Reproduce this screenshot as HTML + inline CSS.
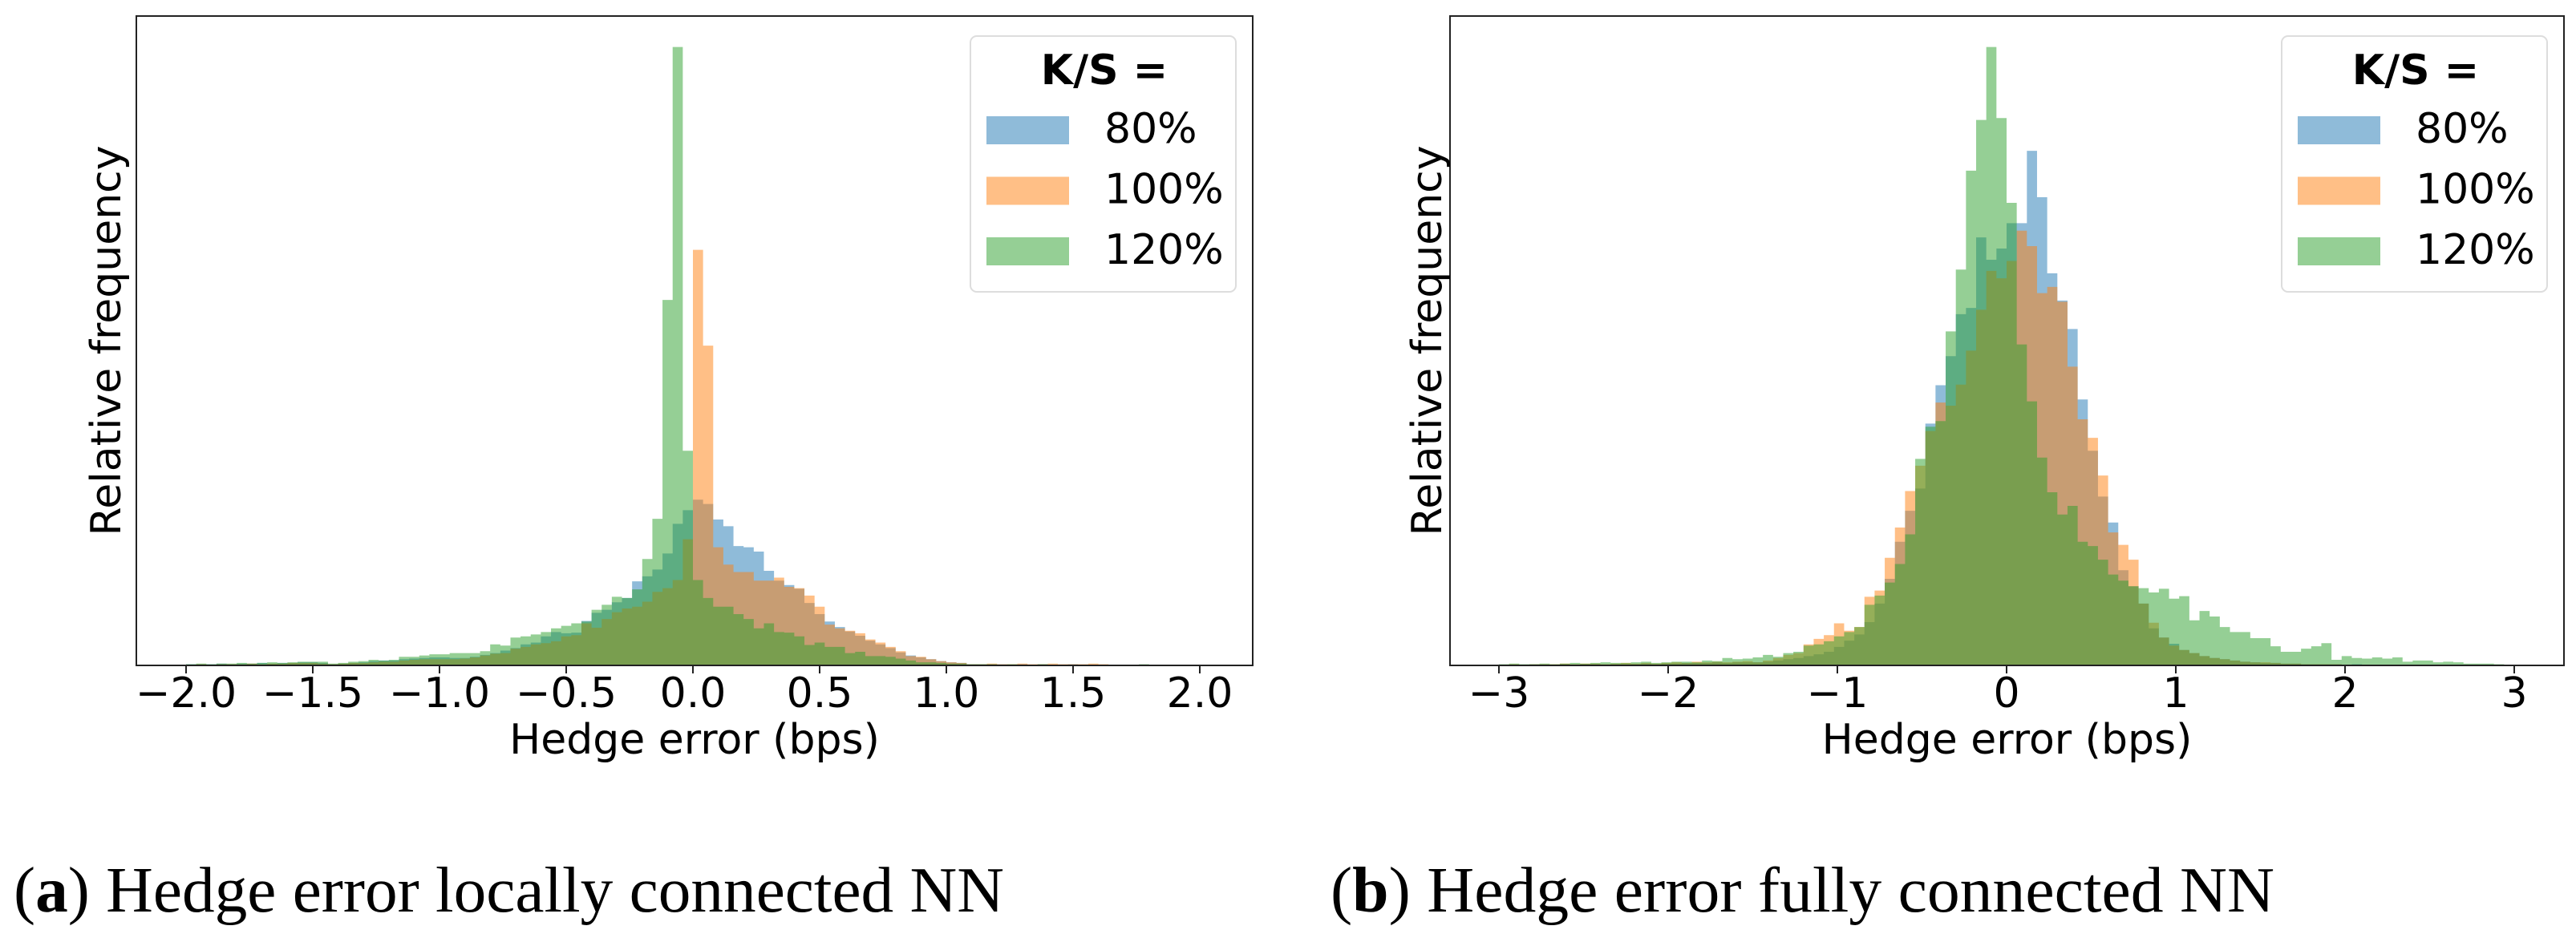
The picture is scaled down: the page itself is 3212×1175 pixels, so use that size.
<!DOCTYPE html>
<html><head><meta charset="utf-8">
<style>
html,body{margin:0;padding:0;background:#fff;}
svg{display:block;}
</style></head>
<body>
<svg id="fig" width="3212" height="1175" viewBox="0 0 3212 1175" xmlns="http://www.w3.org/2000/svg" font-family="'DejaVu Sans','Liberation Sans',sans-serif">
  <rect x="0" y="0" width="3212" height="1175" fill="#fff"/>
  <g id="panelA"></g>
  <g id="panelB"></g>
  <text x="17" y="1137" font-family="'Liberation Serif',serif" font-size="80" textLength="1235" lengthAdjust="spacingAndGlyphs">(<tspan font-weight="bold">a</tspan>) Hedge error locally connected NN</text>
  <text x="1659" y="1137" font-family="'Liberation Serif',serif" font-size="80" textLength="1177" lengthAdjust="spacingAndGlyphs">(<tspan font-weight="bold">b</tspan>) Hedge error fully connected NN</text>
</svg>
<script>
// ---------- Data: panel A (bins of 0.04 from -2.0) ----------
const seriesLabels = ["80%", "100%", "120%"];
const binStartA = -2.0;
const binWidthA = 0.04;
const blueA = [0.002,0.002,0.002,0.003,0.002,0.003,0.003,0.004,0.003,0.004,0.004,0.005,0.005,
0.004,0.002,0.003,0.004,0.005,0.007,0.008,0.008,0.010,0.011,0.012,0.013,0.013,0.012,0.012,0.014,0.017,0.020,0.024,0.028,0.034,0.037,0.047,0.054,0.052,0.053,0.072,0.085,0.090,0.102,0.109,0.136,0.144,0.155,0.181,0.229,0.251,
0.268,0.261,0.236,0.225,0.193,0.191,0.184,0.153,0.137,0.130,0.124,0.101,0.083,0.071,0.062,0.055,0.048,0.040,0.034,0.028,0.021,0.016,0.013,0.010,0.007,0.005,0.004,0.002,0.002,0.002,0.002,0.001,0.002,0.001,0.002,0.001,0.001,0.002,0.001,0.001,0.001,0.001,0.001,0.001,0.001,0.001,0.001,0.001,0.001,0.001];
const orangeA = [0.001,0.002,0.001,0.002,0.002,0.002,0.003,0.002,0.003,0.003,0.004,0.004,0.004,
0.003,0.002,0.003,0.004,0.004,0.005,0.006,0.006,0.008,0.009,0.010,0.010,0.010,0.010,0.011,0.013,0.016,0.019,0.020,0.027,0.030,0.034,0.036,0.039,0.047,0.049,0.068,0.061,0.075,0.086,0.092,0.095,0.103,0.119,0.125,0.138,0.204,
0.672,0.517,0.191,0.163,0.151,0.151,0.137,0.137,0.142,0.127,0.125,0.113,0.095,0.066,0.060,0.056,0.052,0.042,0.037,0.030,0.023,0.015,0.014,0.010,0.007,0.005,0.004,0.002,0.002,0.003,0.002,0.002,0.003,0.002,0.002,0.003,0.002,0.002,0.002,0.003,0.002,0.001,0.001,0.001,0.001,0.001,0.001,0.001,0.001,0.001];
const greenA = [0.002,0.003,0.002,0.003,0.003,0.004,0.003,0.004,0.005,0.004,0.005,0.006,0.006,
0.006,0.003,0.004,0.006,0.007,0.009,0.008,0.009,0.014,0.014,0.016,0.018,0.018,0.020,0.020,0.020,0.023,0.034,0.032,0.045,0.047,0.050,0.054,0.060,0.064,0.068,0.071,0.090,0.098,0.111,0.109,0.123,0.172,0.237,0.591,1.000,0.347,
0.138,0.109,0.095,0.095,0.083,0.075,0.060,0.068,0.054,0.053,0.047,0.033,0.037,0.030,0.030,0.020,0.022,0.015,0.015,0.014,0.011,0.008,0.005,0.005,0.004,0.003,0.003,0.002,0.002,0.002,0.001,0.002,0.001,0.001,0.002,0.001,0.001,0.001,0.001,0.001,0.001,0.001,0.001,0.001,0.002,0.001,0.001,0.001,0.001,0.001];
const ticksA = [-2.0,-1.5,-1.0,-0.5,0.0,0.5,1.0,1.5,2.0];
const tickLabelsA = ["\u22122.0","\u22121.5","\u22121.0","\u22120.5","0.0","0.5","1.0","1.5","2.0"];

// ---------- Data: panel B (bins of 0.06 from -3.0) ----------
const binStartB = -3.0;
const binWidthB = 0.06;
const blueB = [0.001,0.001,0.001,0.002,0.001,0.001,0.002,0.001,0.002,0.002,0.001,0.002,0.002,0.002,0.003,0.002,0.003,0.003,0.004,0.004,0.004,0.005,0.004,0.005,0.005,
0.005,0.006,0.008,0.010,0.012,0.015,0.018,0.022,0.030,0.040,0.050,0.070,0.100,0.140,0.200,0.250,0.286,0.391,0.453,0.500,0.568,0.578,0.692,0.656,0.674,
0.715,0.715,0.832,0.757,0.634,0.590,0.544,0.430,0.347,0.273,0.231,0.154,0.128,0.100,0.060,0.045,0.035,0.025,0.020,0.015,0.012,0.010,0.008,0.006,0.005,0.004,0.004,0.003,0.003,0.002,0.002,0.002,0.002,0.001,0.002,0.001,0.001,0.001,0.001,0.001,0.001,0.001,0.001,0.001,0.001,0.001,0.001,0.001,0.001,0.001];
const orangeB = [0.001,0.002,0.001,0.002,0.002,0.002,0.003,0.002,0.003,0.003,0.002,0.003,0.004,0.003,0.004,0.003,0.004,0.005,0.004,0.006,0.005,0.006,0.005,0.006,0.007,
0.005,0.008,0.012,0.017,0.020,0.034,0.043,0.049,0.068,0.056,0.062,0.111,0.121,0.174,0.223,0.282,0.323,0.379,0.425,0.420,0.454,0.509,0.575,0.638,0.626,0.654,
0.703,0.678,0.602,0.612,0.588,0.483,0.398,0.368,0.307,0.215,0.195,0.171,0.100,0.069,0.045,0.032,0.025,0.020,0.015,0.012,0.010,0.008,0.006,0.005,0.005,0.004,0.003,0.003,0.002,0.002,0.002,0.002,0.001,0.001,0.001,0.001,0.001,0.001,0.001,0.001,0.001,0.001,0.001,0.001,0.001,0.001,0.001,0.001];
const greenB = [0.002,0.003,0.002,0.002,0.003,0.002,0.003,0.004,0.003,0.004,0.005,0.004,0.004,0.005,0.006,0.004,0.005,0.006,0.006,0.005,
0.008,0.007,0.012,0.010,0.011,0.013,0.017,0.014,0.020,0.022,0.032,0.034,0.039,0.047,0.054,0.062,0.098,0.113,0.134,0.164,0.212,0.334,0.386,0.395,0.540,0.640,0.800,0.882,1.000,0.885,
0.748,0.519,0.427,0.336,0.280,0.244,0.258,0.200,0.193,0.171,0.147,0.137,0.128,0.125,0.118,0.124,0.108,0.112,0.073,0.088,0.079,0.062,0.054,0.054,0.044,0.044,0.031,0.022,0.022,0.027,0.031,0.036,0.009,0.015,0.012,0.011,0.013,0.011,0.013,0.006,0.008,0.008,0.005,0.006,0.005,0.003,0.003,0.003,0.002,0.001];
const ticksB = [-3,-2,-1,0,1,2,3];
const tickLabelsB = ["\u22123","\u22122","\u22121","0","1","2","3"];

const NS = "http://www.w3.org/2000/svg";
const COLORS = ["#1f77b4", "#ff7f0e", "#2ca02c"];

function mk(tag, attrs, parent) {
  const e = document.createElementNS(NS, tag);
  for (const k in attrs) e.setAttribute(k, attrs[k]);
  parent.appendChild(e);
  return e;
}

function drawPanel(g, cfg) {
  const L = cfg.left, R = cfg.right, T = 20, B = 830;
  const xScale = v => cfg.x0 + v * cfg.pxPerUnit;
  const maxV = Math.max(...cfg.series.flat());
  const yScale = v => B - v / (maxV * 1.05) * (B - T);

  const bars = mk("g", {}, g);
  
  
  cfg.series.forEach((arr, si) => {
    const sg = mk("g", {fill: COLORS[si], "fill-opacity": 0.5}, bars);
    
    
    let d = "M" + xScale(cfg.binStart).toFixed(2) + "," + B;
    arr.forEach((v, i) => {
      const x0 = xScale(cfg.binStart + i * cfg.binWidth);
      const x1 = xScale(cfg.binStart + (i + 1) * cfg.binWidth);
      const y = yScale(v);
      d += "L" + x0.toFixed(2) + "," + y.toFixed(2) + "L" + x1.toFixed(2) + "," + y.toFixed(2);
    });
    d += "L" + xScale(cfg.binStart + arr.length * cfg.binWidth).toFixed(2) + "," + B + "Z";
    const p = mk("path", {d: d}, sg);
    
    
  });

  const frame = mk("rect", {x: L, y: T, width: R - L, height: B - T, fill: "none", stroke: "#222", "stroke-width": 2}, g);
  
  

  const xa = mk("g", {}, g);
  
  
  cfg.ticks.forEach((t, i) => {
    const x = xScale(t);
    const tk = mk("line", {x1: x, y1: B, x2: x, y2: B + 10, stroke: "#222", "stroke-width": 2}, xa);
    
    
    const tl = mk("text", {x: x, y: 882, "font-size": 52, "text-anchor": "middle", fill: "#000"}, xa);
    tl.textContent = cfg.tickLabels[i];
    
    
  });
  const xl = mk("text", {x: (L + R) / 2, y: 940, "font-size": 52, "text-anchor": "middle", fill: "#000"}, g);
  xl.textContent = "Hedge error (bps)";
  
  

  const yl = mk("text", {x: 0, y: 0, "font-size": 52, "text-anchor": "middle", fill: "#000",
    transform: "translate(" + cfg.ylabX + "," + ((T + B) / 2) + ") rotate(-90)"}, g);
  yl.textContent = "Relative frequency";
  
  

  // legend
  const lx = R - 352, ly = 45;
  const lg = mk("g", {}, g);
  
  
  mk("rect", {x: lx, y: ly, width: 331, height: 319, rx: 8, fill: "#fff", "fill-opacity": 0.8, stroke: "#ddd", "stroke-width": 2}, lg);
  const lt = mk("text", {x: lx + 167, y: 105, "font-size": 52, "font-weight": "bold", "text-anchor": "middle", fill: "#000"}, lg);
  lt.textContent = "K/S =";
  
  
  seriesLabels.forEach((lab, si) => {
    const e = mk("g", {}, lg);
    
    
    mk("rect", {x: lx + 20, y: 145 + si * 75.5, width: 103, height: 35, fill: COLORS[si], "fill-opacity": 0.5}, e);
    const tx = mk("text", {x: lx + 167, y: 178 + si * 75.5, "font-size": 52, fill: "#000"}, e);
    tx.textContent = lab;
  });
}

drawPanel(document.getElementById("panelA"), {
  left: 170, right: 1562, x0: 864, pxPerUnit: 316, ylabX: 150,
  binStart: binStartA, binWidth: binWidthA,
  series: [blueA, orangeA, greenA], ticks: ticksA, tickLabels: tickLabelsA
});
drawPanel(document.getElementById("panelB"), {
  left: 1808, right: 3197, x0: 2502, pxPerUnit: 211, ylabX: 1797,
  binStart: binStartB, binWidth: binWidthB,
  series: [blueB, orangeB, greenB], ticks: ticksB, tickLabels: tickLabelsB
});
</script>
</body></html>
